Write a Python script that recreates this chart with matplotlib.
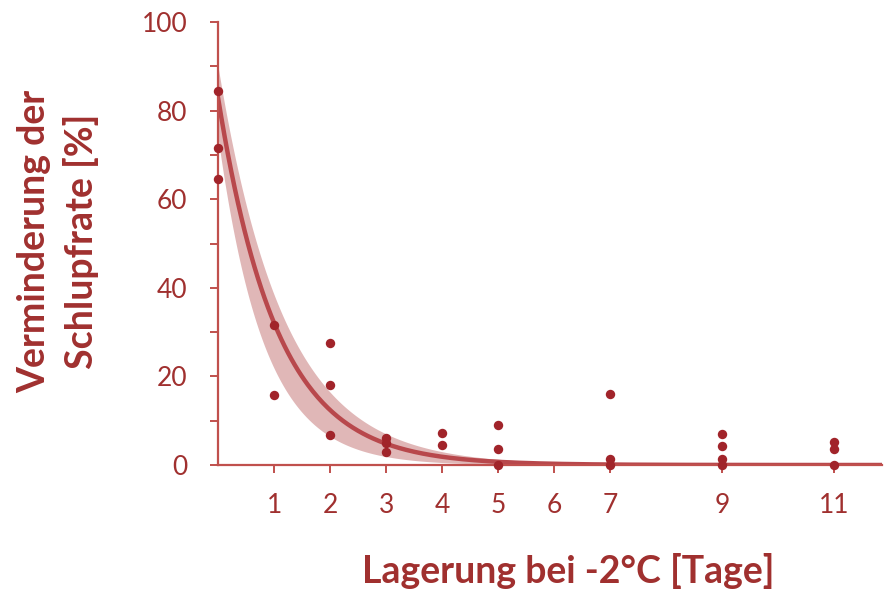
"""
Schlupfrate nach Lagerung bei -2 Grad C
"""
import numpy as np
import matplotlib.pyplot as plt

# Messpunkte (Tage, Verminderung in %)
tage = [0, 0, 0, 1, 1, 2, 2, 2, 3, 3, 3, 4, 4, 5, 5, 5, 7, 7, 7, 9, 9, 9, 9, 11, 11, 11]
verminderung = [84.4, 71.6, 64.6, 31.6, 15.8, 27.5, 18.0, 6.8, 6.1, 5.0, 3.0, 7.2, 4.5,
                9.0, 3.6, 0.0, 16.0, 1.4, 0.0, 7.0, 4.3, 1.4, 0.0, 5.3, 3.6, 0.0]

# exponentielle Anpassung mit Band
fit_amp, fit_rate = 83.0, 0.95
band_hi_amp, band_hi_rate = 90.0, 0.85
band_lo_amp, band_lo_rate = 74.0, 1.22

x_ticks = [1, 2, 3, 4, 5, 6, 7, 9, 11]
y_ticks = [0, 20, 40, 60, 80, 100]

text_col = '#A0302F'
dot_col = '#A1242A'
axis_col = '#C0504D'
line_col = '#B8484C'
band_col = '#D9A5A5'

plt.rcParams['font.family'] = ['Lato', 'DejaVu Sans']

fig = plt.figure(figsize=(8.86, 5.95), dpi=100)
ax = fig.add_axes([218/886, 1-465/595, 664/886, 443/595])

xs = np.linspace(0, 11.85, 400)
ax.fill_between(xs, band_lo_amp*np.exp(-band_lo_rate*xs), band_hi_amp*np.exp(-band_hi_rate*xs),
                color=band_col, alpha=0.8, lw=0, zorder=1)
ax.plot(xs, fit_amp*np.exp(-fit_rate*xs), color=line_col, lw=3.2, zorder=2)
ax.scatter(tage, verminderung, s=46, color=dot_col, zorder=4, clip_on=False, lw=0)

ax.set_xlim(0, 11.85)
ax.set_ylim(0, 100)
ax.set_xticks(x_ticks)
ax.set_yticks(y_ticks)
ax.set_yticks(np.arange(10, 100, 20), minor=True)

for s in ['top', 'right']:
    ax.spines[s].set_visible(False)
for s in ['left', 'bottom']:
    ax.spines[s].set_color(axis_col)
    ax.spines[s].set_linewidth(1.6)
ax.spines['left'].set_zorder(3)

ax.tick_params(axis='y', which='both', direction='out', length=6, width=1.4, color=axis_col,
               labelcolor=text_col, labelsize=19, pad=16)
ax.tick_params(axis='x', direction='out', length=6, width=1.4, color=axis_col,
               labelcolor=text_col, labelsize=19, pad=14)

fig.text(58/886, 1-241/595, 'Verminderung der\nSchlupfrate [%]', rotation=90,
         ha='center', va='center', multialignment='center', fontsize=27,
         fontweight='bold', color=text_col, linespacing=1.4)
fig.text(568/886, 1-583/595, 'Lagerung bei -2°C [Tage]', ha='center', va='baseline',
         fontsize=27, fontweight='bold', color=text_col)

plt.savefig('out.png', dpi=100)
